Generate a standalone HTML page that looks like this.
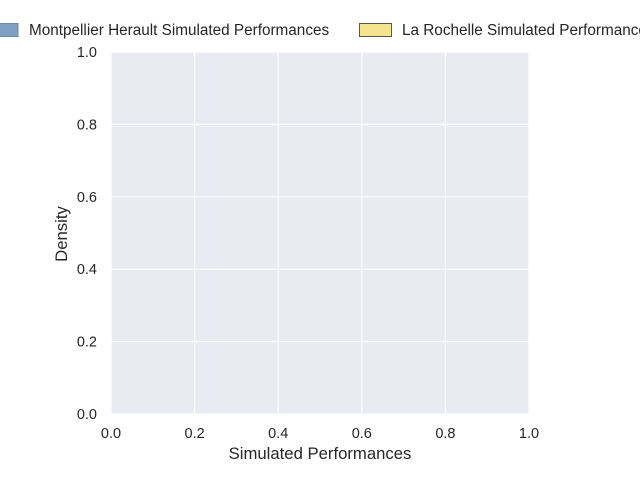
<!DOCTYPE html>
<html>
<head>
<meta charset="utf-8">
<style>
html,body{margin:0;padding:0;background:#fff;}
body{width:640px;height:480px;overflow:hidden;font-family:"Liberation Sans","DejaVu Sans",sans-serif;}
</style>
</head>
<body>
<svg id="chart" width="640" height="480" viewBox="0 0 640 480" xmlns="http://www.w3.org/2000/svg">
  <rect x="111" y="52" width="418" height="362" fill="#eaeaf2"/>
  <g id="grid"></g>
  <g id="xticks"></g>
  <g id="yticks"></g>
  <text x="320" y="459" font-size="16.7" fill="#262626" text-anchor="middle">Simulated Performances</text>
  <text x="67" y="234" font-size="16.7" fill="#262626" text-anchor="middle" transform="rotate(-90 67 234)">Density</text>
  <g>
    <g>
      <rect x="-14" y="23.5" width="32" height="13" fill="#7fa0c0" stroke="#6e8aa8" stroke-width="1"/>
      <text x="29" y="35" font-size="15.3" fill="#262626">Montpellier Herault Simulated Performances</text>
    </g>
    <g>
      <rect x="359.5" y="23.5" width="32" height="13" fill="#f4e38f" stroke="#5a5a4a" stroke-width="1"/>
      <text x="402" y="35" font-size="15.3" fill="#262626">La Rochelle Simulated Performances</text>
    </g>
  </g>
</svg>
<script>
const xTicks = [0.0, 0.2, 0.4, 0.6, 0.8, 1.0];
const yTicks = [0.0, 0.2, 0.4, 0.6, 0.8, 1.0];
const xDomain = [0, 1];
const yDomain = [0, 1];
const L = 111, R = 529, T = 52, B = 414;
function xs(v){ return L + (v - xDomain[0]) / (xDomain[1] - xDomain[0]) * (R - L); }
function ys(v){ return B - (v - yDomain[0]) / (yDomain[1] - yDomain[0]) * (B - T); }
const NS = "http://www.w3.org/2000/svg";
const grid = document.getElementById('grid');
const gx = document.getElementById('xticks');
const gy = document.getElementById('yticks');
xTicks.forEach(function(t){
  const l = document.createElementNS(NS,'line');
  l.setAttribute('x1', xs(t)); l.setAttribute('x2', xs(t));
  l.setAttribute('y1', T); l.setAttribute('y2', B);
  l.setAttribute('stroke','#fff'); l.setAttribute('stroke-width','1.2');
  
  
  grid.appendChild(l);
  const tx = document.createElementNS(NS,'text');
  tx.setAttribute('x', xs(t)); tx.setAttribute('y', B + 24);
  tx.setAttribute('text-anchor','middle'); tx.setAttribute('font-size','14.5'); tx.setAttribute('fill','#262626');
  tx.textContent = t.toFixed(1);
  
  
  gx.appendChild(tx);
});
yTicks.forEach(function(t){
  const l = document.createElementNS(NS,'line');
  l.setAttribute('x1', L); l.setAttribute('x2', R);
  l.setAttribute('y1', ys(t)); l.setAttribute('y2', ys(t));
  l.setAttribute('stroke','#fff'); l.setAttribute('stroke-width','1.2');
  
  
  grid.appendChild(l);
  const tx = document.createElementNS(NS,'text');
  tx.setAttribute('x', L - 14); tx.setAttribute('y', ys(t) + 5);
  tx.setAttribute('text-anchor','end'); tx.setAttribute('font-size','14.5'); tx.setAttribute('fill','#262626');
  tx.textContent = t.toFixed(1);
  
  
  gy.appendChild(tx);
});
</script>
</body>
</html>
